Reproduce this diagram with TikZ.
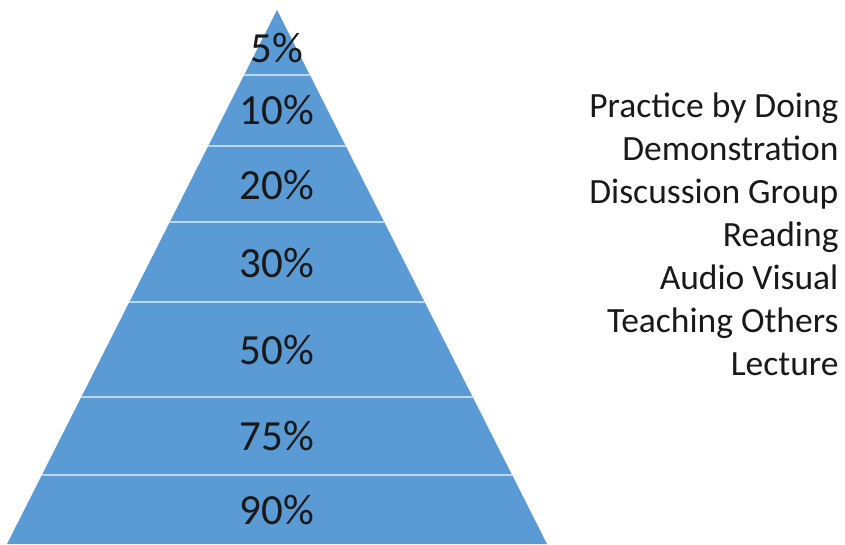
\documentclass[tikz,border=0pt]{standalone}
\usepackage{fontspec}
\setmainfont{Carlito}
\usepackage{xcolor}
\usepackage{tikz}
\usetikzlibrary{positioning, calc}

\definecolor{pyrblue}{HTML}{5B9BD5}
\definecolor{pyrline}{HTML}{BDD7EE}

\begin{document}
\begin{tikzpicture}[
    x=1pt, y=-1pt,
    pct/.style={anchor=base, font=\fontsize{43}{50}\selectfont, text=black!90},
    method/.style={anchor=base east, font=\fontsize{35.5}{42}\selectfont, text=black!90},
    band/.style={draw=pyrline, line width=1.6pt}
]
\useasboundingbox (0,0) rectangle (845,544);

% pyramid body
\coordinate (apex) at (277,10);
\coordinate (bl) at (7,544);
\coordinate (br) at (547,544);
\fill[pyrblue] (apex) -- (br) -- (bl) -- cycle;

% separators between the levels
\begin{scope}
\clip (apex) -- (br) -- (bl) -- cycle;
\foreach \y in {75,146,222,302,397,475}
    \draw[band] (0,\y) -- (845,\y);
\end{scope}

% retention rates
\node[pct] (p5) at (277,62) {5\%};
\node[pct] (p10) at (277,124) {10\%};
\node[pct] (p20) at (277,199) {20\%};
\node[pct] (p30) at (277,277) {30\%};
\node[pct] (p50) at (277,364) {50\%};
\node[pct] (p75) at (277,450) {75\%};
\node[pct] (p90) at (277,524) {90\%};

% learning methods
\node[method] (m1) at (842,117) {Practice by Doing};
\node[method] (m2) at (842,160) {Demonstration};
\node[method] (m3) at (842,203) {Discussion Group};
\node[method] (m4) at (842,246) {Reading};
\node[method] (m5) at (842,289) {Audio Visual};
\node[method] (m6) at (842,332) {Teaching Others};
\node[method] (m7) at (842,375) {Lecture};
\end{tikzpicture}
\end{document}
